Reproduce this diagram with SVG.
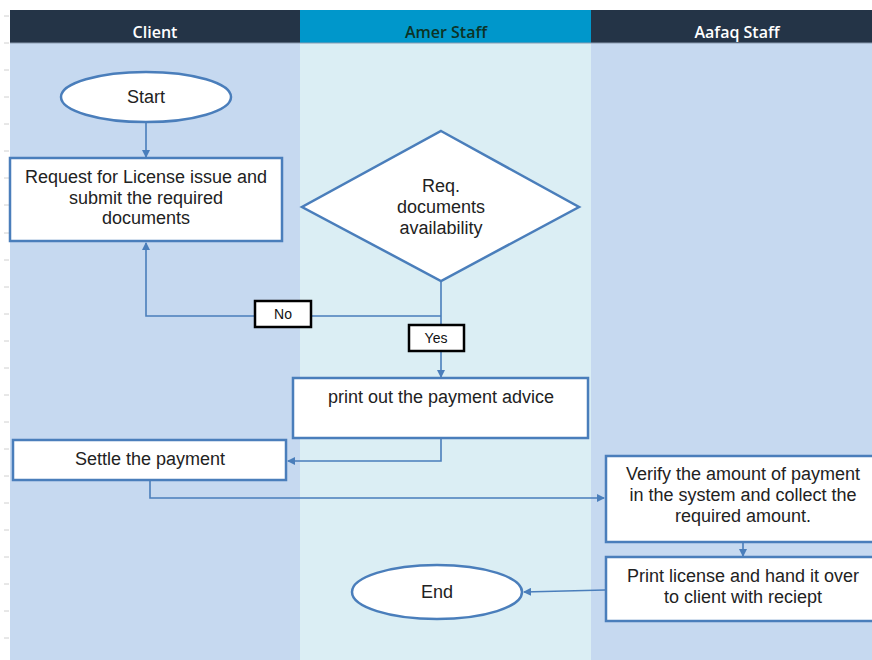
<svg xmlns="http://www.w3.org/2000/svg" width="872" height="660" viewBox="0 0 872 660">
<defs>
<marker id="arr" markerWidth="8" markerHeight="8" refX="7" refY="4" orient="auto" markerUnits="userSpaceOnUse">
<path d="M0,0 L8,4 L0,8 z" fill="#4a7ebb"/>
</marker>
<style>
.hdr{font-family:"Open Sans","Liberation Sans",sans-serif;font-size:16px;font-weight:600;text-anchor:middle}
.box{fill:#fff;stroke:#4a7ebb;stroke-width:2.5}
.t{font-family:"Liberation Sans",Arial,sans-serif;font-size:18px;fill:#222;text-anchor:middle}
.lbl{fill:#fff;stroke:#000;stroke-width:2.5}
.lt{font-family:"Liberation Sans",Arial,sans-serif;font-size:14px;fill:#111;text-anchor:middle}
.c{fill:none;stroke:#4a7ebb;stroke-width:1.6}
.tick{stroke:#d0d0d0;stroke-width:1}
</style>
</defs>
<rect width="872" height="660" fill="#fff"/>
<g id="ticks">
<path class="tick" d="M4,16h5M4,43h5M4,70h5M4,97h5M4,124h5M4,151h5M4,178h5M4,205h5M4,233h5M4,260h5M4,287h5M4,314h5M4,341h5M4,368h5M4,395h5M4,422h5M4,449h5M4,476h5M4,503h5M4,530h5M4,557h5M4,584h5M4,611h5M4,638h5"/>
</g>
<g id="lanes">
<rect x="10" y="43" width="290" height="617" fill="#c6d9f0"/>
<rect x="300" y="43" width="291" height="617" fill="#dbeef4"/>
<rect x="591" y="43" width="281" height="617" fill="#c6d9f0"/>
<rect x="10" y="10" width="290" height="33" fill="#243447"/>
<rect x="300" y="10" width="291" height="33" fill="#0097cb"/>
<rect x="591" y="10" width="281" height="33" fill="#243447"/>
<line x1="10" y1="43" x2="872" y2="43" stroke="#8a9bb0" stroke-width="1"/>
<text class="hdr" x="155" y="38" fill="#fff">Client</text>
<text class="hdr" x="446" y="38" fill="#0d3326">Amer Staff</text>
<text class="hdr" x="737" y="38" fill="#fff">Aafaq Staff</text>
</g>
<g id="connectors">
<path class="c" d="M146,123 V157" marker-end="url(#arr)"/>
<path class="c" d="M441,281 V377" marker-end="url(#arr)"/>
<path class="c" d="M441,316 H146 V243" marker-end="url(#arr)"/>
<path class="c" d="M441,439 V461 H288" marker-end="url(#arr)"/>
<path class="c" d="M150,481 V498 H604" marker-end="url(#arr)"/>
<path class="c" d="M743,543 V556" marker-end="url(#arr)"/>
<path class="c" d="M605,590 L524,592" marker-end="url(#arr)"/>
</g>
<g id="start">
<ellipse class="box" cx="146" cy="97" rx="85" ry="25"/>
<text class="t" x="146" y="103">Start</text>
</g>
<g id="request">
<rect class="box" x="10" y="158" width="272" height="83"/>
<text class="t" x="146" y="183">Request for License issue and</text>
<text class="t" x="146" y="204">submit the required</text>
<text class="t" x="146" y="224">documents</text>
</g>
<g id="decision">
<polygon class="box" points="441,131 579,207 441,281 302,207"/>
<text class="t" x="441" y="192">Req.</text>
<text class="t" x="441" y="213">documents</text>
<text class="t" x="441" y="234">availability</text>
</g>
<g id="no">
<rect class="lbl" x="255" y="301" width="56" height="26"/>
<text class="lt" x="283" y="319">No</text>
</g>
<g id="yes">
<rect class="lbl" x="409" y="325" width="55" height="26"/>
<text class="lt" x="436" y="343">Yes</text>
</g>
<g id="advice">
<rect class="box" x="293" y="378" width="295" height="60"/>
<text class="t" x="441" y="403">print out the payment advice</text>
</g>
<g id="settle">
<rect class="box" x="13" y="440" width="273" height="40"/>
<text class="t" x="150" y="465">Settle the payment</text>
</g>
<g id="verify">
<rect class="box" x="606" y="456" width="268" height="86"/>
<text class="t" x="743" y="480">Verify the amount of payment</text>
<text class="t" x="743" y="501">in the system and collect the</text>
<text class="t" x="743" y="522">required amount.</text>
</g>
<g id="printlicense">
<rect class="box" x="606" y="557" width="268" height="64"/>
<text class="t" x="743" y="582">Print license and hand it over</text>
<text class="t" x="743" y="603">to client with reciept</text>
</g>
<g id="end">
<ellipse class="box" cx="437" cy="592" rx="85" ry="27"/>
<text class="t" x="437" y="598">End</text>
</g>
</svg>
